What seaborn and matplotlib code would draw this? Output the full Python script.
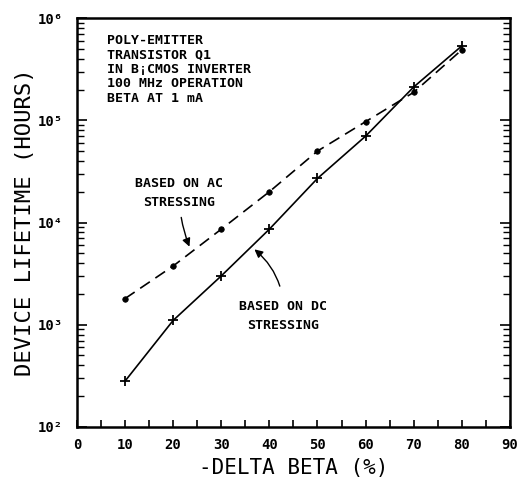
import matplotlib
matplotlib.use("Agg")
import matplotlib.pyplot as plt
import matplotlib.ticker as mticker
import seaborn as sns
import pandas as pd
import numpy as np

# ---- data ----
delta_beta = [10, 20, 30, 40, 50, 60, 70, 80]
ac_lifetime = [1800, 3750, 8600, 20000, 50000, 97000, 188000, 490000]
dc_lifetime = [280, 1100, 3000, 8600, 27000, 70000, 212000, 535000]
x_ticks = [0, 10, 20, 30, 40, 50, 60, 70, 80, 90]
y_ticks = [1e2, 1e3, 1e4, 1e5, 1e6]
y_tick_labels = ["10²", "10³", "10⁴", "10⁵", "10⁶"]
info_text = "POLY-EMITTER\nTRANSISTOR Q1\nIN B¡CMOS INVERTER\n100 MHz OPERATION\nBETA AT 1 mA"

sns.set_theme(style="ticks")
plt.rcParams["font.family"] = ["DejaVu Sans Mono", "DejaVu Sans"]
plt.rcParams["text.color"] = "black"
plt.rcParams["axes.labelcolor"] = "black"
plt.rcParams["xtick.color"] = "black"
plt.rcParams["ytick.color"] = "black"

df_ac = pd.DataFrame({"x": delta_beta, "y": ac_lifetime})
df_dc = pd.DataFrame({"x": delta_beta, "y": dc_lifetime})

fig = plt.figure(figsize=(5.23, 4.78), dpi=100)
ax = fig.add_axes([0.147, 0.107, 0.828, 0.855])

sns.lineplot(data=df_ac, x="x", y="y", ax=ax, color="black", lw=1.2,
             linestyle=(0, (7, 4)), marker="o", markersize=4,
             markeredgecolor="black", markerfacecolor="black", markeredgewidth=0.5)
sns.lineplot(data=df_dc, x="x", y="y", ax=ax, color="black", lw=1.2,
             marker="+", markersize=7, markeredgecolor="black", markeredgewidth=1.3)

ax.set_yscale("log")
ax.set_xlim(0, 90)
ax.set_ylim(1e2, 1e6)

for s in ax.spines.values():
    s.set_linewidth(1.8)
    s.set_color("black")
    s.set_visible(True)

ax.set_xticks(x_ticks)
ax.set_xticklabels([str(v) for v in x_ticks], fontsize=10, fontweight="bold")
ax.xaxis.set_minor_locator(mticker.MultipleLocator(5))
ax.set_yticks(y_ticks)
ax.set_yticklabels(y_tick_labels, fontsize=10, fontweight="bold")
ax.yaxis.set_minor_locator(mticker.LogLocator(base=10, subs=np.arange(2, 10)))
ax.yaxis.set_minor_formatter(mticker.NullFormatter())

ax.tick_params(axis="x", which="both", direction="in", length=5, width=1.2,
               top=False, bottom=True, pad=8)
ax.tick_params(axis="y", which="major", direction="in", length=7, width=1.2,
               left=True, right=True, pad=10)
ax.tick_params(axis="y", which="minor", direction="in", length=5, width=1.0,
               left=True, right=True)

ax.set_xlabel("-DELTA BETA (%)", fontsize=15, labelpad=4)
ax.set_ylabel("DEVICE LIFETIME (HOURS)", fontsize=16, labelpad=2)

ax.text(0.07, 0.962, info_text, transform=ax.transAxes, fontsize=9.5,
        fontweight="bold", va="top", ha="left", linespacing=1.15)

ax.annotate("BASED ON AC\nSTRESSING", xy=(23.4, 5800), xytext=(21.3, 1.96e4),
            fontsize=9.5, fontweight="bold", ha="center", va="center",
            linespacing=1.6,
            arrowprops=dict(arrowstyle="-|>", color="black", lw=1.0,
                            shrinkA=4, shrinkB=0, mutation_scale=12,
                            connectionstyle="arc3,rad=0.1"))
ax.annotate("BASED ON DC\nSTRESSING", xy=(36.9, 5460), xytext=(42.9, 1.21e3),
            fontsize=9.5, fontweight="bold", ha="center", va="center",
            linespacing=1.6,
            arrowprops=dict(arrowstyle="-|>", color="black", lw=1.0,
                            shrinkA=8, shrinkB=0, mutation_scale=12,
                            connectionstyle="arc3,rad=0.25"))

fig.savefig("out.png", dpi=100)
